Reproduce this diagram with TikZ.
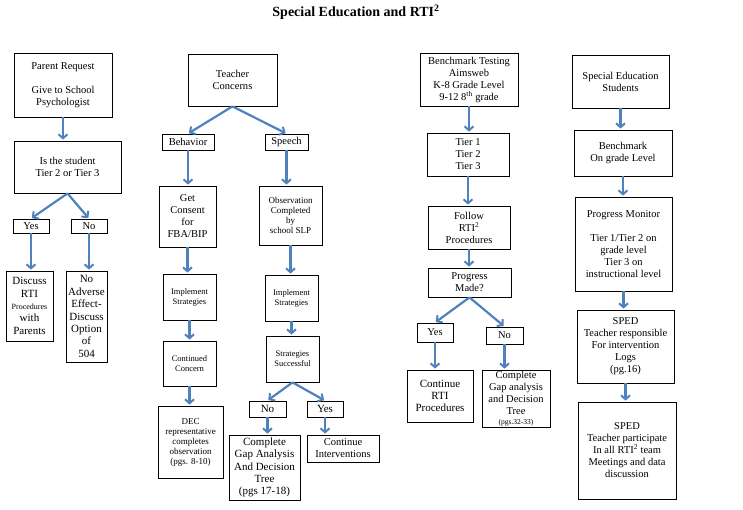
\documentclass[tikz,border=0pt]{standalone}
\usepackage{fontspec}
\setmainfont{Liberation Serif}
\usetikzlibrary{arrows.meta}
\definecolor{flowblue}{RGB}{79,129,189}
\tikzset{
  blk/.style={draw, line width=0.8pt, align=center, inner sep=1pt,
    font=\fontsize{10.5}{12}\selectfont},
  sml/.style={blk, font=\fontsize{8.5}{10}\selectfont},
  mid/.style={blk, font=\fontsize{9}{10}\selectfont},
  big/.style={blk, font=\fontsize{11}{12.4}\selectfont},
  flow/.style={draw=flowblue, line width=2.2pt,
    -{Straight Barb[length=4pt,width=9pt,line width=2pt]}, shorten >=1pt}
}
\begin{document}
\begin{tikzpicture}[x=1pt, y=-1pt]
  \useasboundingbox (0,0) rectangle (743,509);
  \node[font=\bfseries\fontsize{14}{16}\selectfont] (title) at (356,12) {Special Education and RTI\textsuperscript{2}};

  % parent request column
  \node[blk, minimum width=98pt, minimum height=64pt] (pr) at (63,85) {Parent Request\\[12pt]Give to School\\Psychologist};
  \node[blk, minimum width=107pt, minimum height=52pt] (tier) at (67.5,167) {Is the student\\Tier 2 or Tier 3};
  \node[blk, minimum width=36pt, minimum height=14pt] (yesa) at (31,226) {Yes};
  \node[blk, minimum width=36pt, minimum height=14pt] (noa) at (89,226) {No};
  \node[big, minimum width=47pt, minimum height=70pt] (disc) at (29.5,306) {Discuss\\RTI\\{\fontsize{8}{9}\selectfont Procedures}\\with\\Parents};
  \node[big, minimum width=41pt, minimum height=91pt] (adv) at (86.5,316.5) {No\\Adverse\\Effect-\\Discuss\\Option\\of\\504};

  % teacher concerns column
  \node[blk, minimum width=89pt, minimum height=52pt] (tc) at (232.5,80) {Teacher\\Concerns};
  \node[blk, minimum width=52pt, minimum height=16pt] (beh) at (188,142) {Behavior};
  \node[blk, minimum width=43pt, minimum height=16pt] (sp) at (286.5,142) {Speech};
  \node[blk, minimum width=57pt, minimum height=61pt] (cons) at (187.5,216.5) {Get\\Consent\\for\\FBA/BIP};
  \node[mid, minimum width=63pt, minimum height=59pt] (obs) at (290.5,215.5) {Observation\\Completed\\by\\school SLP};
  \node[sml, minimum width=53pt, minimum height=46pt] (impa) at (189.5,297) {Implement\\Strategies};
  \node[sml, minimum width=53pt, minimum height=45pt] (cc) at (189.5,363.5) {Continued\\Concern};
  \node[mid, minimum width=65pt, minimum height=72pt] (dec) at (190.5,442) {DEC\\representative\\completes\\observation\\(pgs. 8-10)};
  \node[sml, minimum width=53pt, minimum height=46pt] (impb) at (291.5,298) {Implement\\Strategies};
  \node[sml, minimum width=53pt, minimum height=46pt] (succ) at (292.5,359) {Strategies\\Successful};
  \node[big, minimum width=37pt, minimum height=16pt] (nob) at (267.5,409) {No};
  \node[big, minimum width=36pt, minimum height=16pt] (yesb) at (325,409) {Yes};
  \node[big, minimum width=71pt, minimum height=65pt] (gapa) at (264.5,467.5) {Complete\\Gap Analysis\\And Decision\\Tree\\(pgs 17-18)};
  \node[blk, minimum width=72pt, minimum height=27pt] (ci) at (343,448.5) {Continue\\Interventions};

  % benchmark testing column
  \node[blk, minimum width=98pt, minimum height=53pt] (bt) at (469,79.5) {Benchmark Testing\\Aimsweb\\K-8 Grade Level\\9-12 8\textsuperscript{th} grade};
  \node[blk, minimum width=82pt, minimum height=43pt] (t123) at (468,154.5) {Tier 1\\Tier 2\\Tier 3};
  \node[blk, minimum width=82pt, minimum height=43pt] (fol) at (469,227.5) {Follow\\RTI\textsuperscript{2}\\Procedures};
  \node[blk, minimum width=83pt, minimum height=29pt] (pm) at (469.5,282.5) {Progress\\Made?};
  \node[blk, minimum width=36pt, minimum height=19pt] (yesc) at (435,332.5) {Yes};
  \node[blk, minimum width=37pt, minimum height=17pt] (noc) at (504.5,335.5) {No};
  \node[big, minimum width=66pt, minimum height=52pt] (crti) at (440,396) {Continue\\RTI\\Procedures};
  \node[blk, minimum width=68pt, minimum height=55pt] (gapb) at (516,398.5) {Complete\\Gap analysis\\and Decision\\Tree\\[-2pt]{\fontsize{7.5}{8}\selectfont (pgs.32-33)}};

  % special education column
  \node[blk, minimum width=97pt, minimum height=53pt] (se) at (620.5,81.5) {Special Education\\Students};
  \node[blk, minimum width=98pt, minimum height=46pt] (bgl) at (623,153) {Benchmark\\On grade Level};
  \node[blk, minimum width=97pt, minimum height=94pt] (pmon) at (623.5,244) {Progress Monitor\\[12pt]Tier 1/Tier 2 on\\grade level\\Tier 3 on\\instructional level};
  \node[blk, minimum width=97pt, minimum height=73pt] (resp) at (625.5,346.5) {SPED\\Teacher responsible\\For intervention\\Logs\\(pg.16)};
  \node[blk, minimum width=98pt, minimum height=97pt] (part) at (627,450.5) {SPED\\Teacher participate\\In all RTI\textsuperscript{2} team\\Meetings and data\\discussion};

  % arrows
  \draw[flow] (pr.south) -- (pr.south |- tier.north);
  \draw[flow] (tier.south) -- (yesa.north);
  \draw[flow] (tier.south) -- (noa.north);
  \draw[flow] (yesa.south) -- (yesa.south |- disc.north);
  \draw[flow] (noa.south) -- (noa.south |- adv.north);

  \draw[flow] (tc.south) -- (beh.north);
  \draw[flow] (tc.south) -- (sp.north);
  \draw[flow] (beh.south) -- (beh.south |- cons.north);
  \draw[flow] (sp.south) -- (sp.south |- obs.north);
  \draw[flow] (cons.south) -- (cons.south |- impa.north);
  \draw[flow] (impa.south) -- (impa.south |- cc.north);
  \draw[flow] (cc.south) -- (cc.south |- dec.north);
  \draw[flow] (obs.south) -- (obs.south |- impb.north);
  \draw[flow] (impb.south) -- (impb.south |- succ.north);
  \draw[flow] (succ.south) -- (nob.north);
  \draw[flow] (succ.south) -- (yesb.north);
  \draw[flow] (nob.south) -- (nob.south |- gapa.north);
  \draw[flow] (yesb.south) -- (yesb.south |- ci.north);

  \draw[flow] (bt.south) -- (bt.south |- t123.north);
  \draw[flow] (t123.south) -- (t123.south |- fol.north);
  \draw[flow] (fol.south) -- (fol.south |- pm.north);
  \draw[flow] (pm.south) -- (yesc.north);
  \draw[flow] (pm.south) -- (noc.north);
  \draw[flow] (yesc.south) -- (yesc.south |- crti.north);
  \draw[flow] (noc.south) -- (noc.south |- gapb.north);

  \draw[flow] (se.south) -- (se.south |- bgl.north);
  \draw[flow] (bgl.south) -- (bgl.south |- pmon.north);
  \draw[flow] (pmon.south) -- (pmon.south |- resp.north);
  \draw[flow] (resp.south) -- (resp.south |- part.north);
\end{tikzpicture}
\end{document}
